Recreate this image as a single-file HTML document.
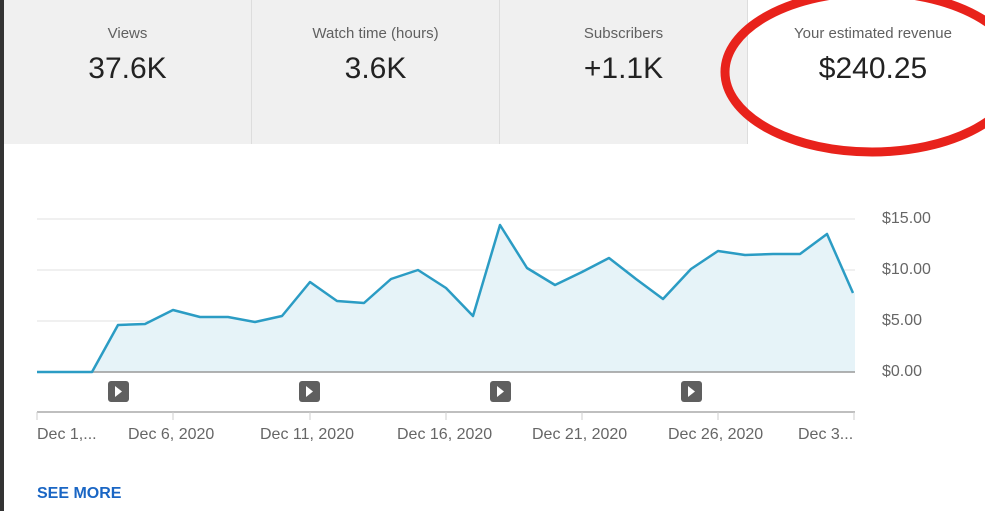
<!DOCTYPE html>
<html><head><style>
body{margin:0;width:985px;height:511px;background:#fff;overflow:hidden;font-family:"Liberation Sans",sans-serif;position:relative}
.card{position:absolute;top:0;height:144px;background:#f0f0f0;text-align:center}
.t{position:absolute;top:25px;width:100%;font-size:15px;color:#606060}
.v{position:absolute;top:52px;width:100%;font-size:30px;color:#222}
.lab{position:absolute;font-size:16px;color:#666}
</style></head><body>
<div style="position:absolute;left:0;top:0;width:4px;height:511px;background:#333"></div>
<div class="card" style="left:4px;width:247px"><div class="t">Views</div><div class="v">37.6K</div></div>
<div class="card" style="left:252px;width:247px"><div class="t">Watch time (hours)</div><div class="v">3.6K</div></div>
<div class="card" style="left:500px;width:247px"><div class="t">Subscribers</div><div class="v">+1.1K</div></div>
<div style="position:absolute;left:251px;top:0;width:1px;height:144px;background:#ddd"></div>
<div style="position:absolute;left:499px;top:0;width:1px;height:144px;background:#ddd"></div>
<div style="position:absolute;left:747px;top:0;width:1px;height:144px;background:#ddd"></div>
<div class="card" style="left:748px;width:250px;background:#fff"><div class="t">Your estimated revenue</div><div class="v">$240.25</div></div>
<svg width="985" height="511" style="position:absolute;left:0;top:0">
<ellipse cx="872" cy="72" rx="147" ry="80" fill="none" stroke="#e8221b" stroke-width="9"/>
<g stroke="#e0e0e0" stroke-width="1"><line x1="37" y1="219" x2="855" y2="219"/><line x1="37" y1="270" x2="855" y2="270"/><line x1="37" y1="321" x2="855" y2="321"/></g>
<polygon fill="#e6f3f8" points="37,372 64,372 92,372 118,325 145,324 173,310 200,317 228,317 255,322 282,316 310,282 337,301 364,303 391,279 418,270 446,288 473,316 500,225 527,268 555,285 582,272 609,258 636,279 663,299 691,269 718,251 745,255 773,254 800,254 827,234 853,293 855,293 855,372"/>
<line x1="37" y1="372" x2="855" y2="372" stroke="#999" stroke-width="1.5"/>
<polyline fill="none" stroke="#2b9cc4" stroke-width="2.5" stroke-linejoin="round" points="37,372 64,372 92,372 118,325 145,324 173,310 200,317 228,317 255,322 282,316 310,282 337,301 364,303 391,279 418,270 446,288 473,316 500,225 527,268 555,285 582,272 609,258 636,279 663,299 691,269 718,251 745,255 773,254 800,254 827,234 853,293"/>
<g fill="#5f5f5f"><rect x="108" y="381" width="21" height="21" rx="3"/><rect x="299" y="381" width="21" height="21" rx="3"/><rect x="490" y="381" width="21" height="21" rx="3"/><rect x="681" y="381" width="21" height="21" rx="3"/></g>
<g fill="#fff"><path d="M115,386 l7,5.5 l-7,5.5z"/><path d="M306,386 l7,5.5 l-7,5.5z"/><path d="M497,386 l7,5.5 l-7,5.5z"/><path d="M688,386 l7,5.5 l-7,5.5z"/></g>
<line x1="37" y1="412" x2="855" y2="412" stroke="#aaa" stroke-width="1.5"/>
<g stroke="#ccc"><line x1="37" y1="412" x2="37" y2="420"/><line x1="173" y1="412" x2="173" y2="420"/><line x1="310" y1="412" x2="310" y2="420"/><line x1="446" y1="412" x2="446" y2="420"/><line x1="582" y1="412" x2="582" y2="420"/><line x1="718" y1="412" x2="718" y2="420"/><line x1="854" y1="412" x2="854" y2="420"/></g>
</svg>
<div class="lab" style="left:882px;top:210px">$15.00</div>
<div class="lab" style="left:882px;top:261px">$10.00</div>
<div class="lab" style="left:882px;top:312px">$5.00</div>
<div class="lab" style="left:882px;top:363px">$0.00</div>
<div class="lab" style="left:37px;top:426px">Dec 1,...</div>
<div class="lab" style="left:128px;top:426px">Dec 6, 2020</div>
<div class="lab" style="left:260px;top:426px">Dec 11, 2020</div>
<div class="lab" style="left:397px;top:426px">Dec 16, 2020</div>
<div class="lab" style="left:532px;top:426px">Dec 21, 2020</div>
<div class="lab" style="left:668px;top:426px">Dec 26, 2020</div>
<div class="lab" style="left:798px;top:426px">Dec 3...</div>
<div style="position:absolute;left:37px;top:485px;font-size:16px;font-weight:bold;color:#1a66c4">SEE MORE</div>
</body></html>
